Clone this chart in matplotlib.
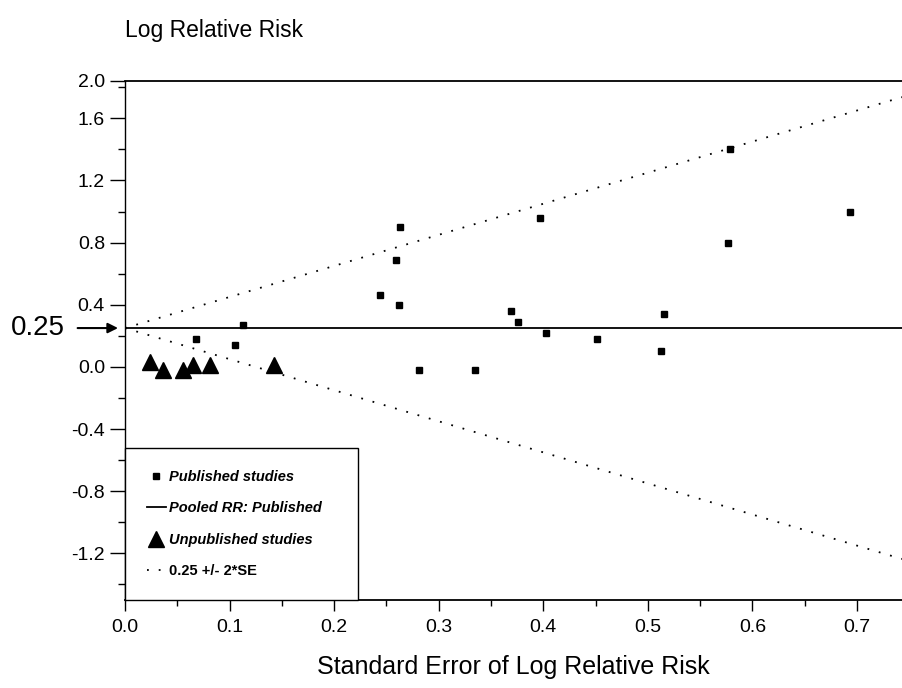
import matplotlib.pyplot as plt

# Published studies: standard error and log relative risk
pub_se = [0.068, 0.113, 0.105, 0.244, 0.259, 0.263, 0.262, 0.281, 0.335, 0.369,
          0.376, 0.397, 0.403, 0.451, 0.513, 0.515, 0.577, 0.579, 0.693]
pub_lrr = [0.18, 0.27, 0.14, 0.46, 0.69, 0.90, 0.40, -0.02, -0.02, 0.36,
           0.29, 0.96, 0.22, 0.18, 0.10, 0.34, 0.80, 1.40, 1.00]

# Unpublished studies
unpub_se = [0.024, 0.036, 0.055, 0.065, 0.081, 0.142]
unpub_lrr = [0.03, -0.02, -0.02, 0.01, 0.01, 0.01]

# Pooled log RR of the published studies
pooled = 0.25

# Axis ticks
x_major = [0.0, 0.1, 0.2, 0.3, 0.4, 0.5, 0.6, 0.7]
x_minor = [0.05, 0.15, 0.25, 0.35, 0.45, 0.55, 0.65]
y_top = 1.84
y_major = [-1.2, -0.8, -0.4, 0.0, 0.4, 0.8, 1.2, 1.6, y_top]
y_labels = ['-1.2', '-0.8', '-0.4', '0.0', '0.4', '0.8', '1.2', '1.6', '2.0']
y_minor = [-1.4, -1.0, -0.6, -0.2, 0.2, 0.6, 1.0, 1.4, 1.8]

plt.rcParams['font.family'] = ['Liberation Sans', 'DejaVu Sans']

fig = plt.figure(figsize=(9.02, 6.88), dpi=100)
ax = fig.add_axes([0.1386, 0.1279, 0.8614, 0.7544])

x_left, x_right = 0.0, 0.743

# Funnel limits 0.25 +/- 2*SE
dots = (0, (1, 5.5))
ax.plot([0, x_right], [pooled, pooled + 2 * x_right], color='black',
        linewidth=1.3, linestyle=dots, label='0.25 +/- 2*SE')
ax.plot([0, x_right], [pooled, pooled - 2 * x_right], color='black',
        linewidth=1.3, linestyle=dots)

# Pooled line
ax.axhline(pooled, color='black', linewidth=1.3, label='Pooled RR: Published')

# Points
ax.plot(pub_se, pub_lrr, linestyle='', marker='s', markersize=5, color='black',
        label='Published studies')
ax.plot(unpub_se, unpub_lrr, linestyle='', marker='^', markersize=12, color='black',
        label='Unpublished studies')

ax.set_xlim(x_left, x_right)
ax.set_ylim(-1.5, y_top)

# Spines
ax.spines['right'].set_visible(False)
ax.spines['top'].set_linewidth(1.3)
ax.spines['bottom'].set_linewidth(1.3)
ax.spines['left'].set_linewidth(1.0)

# Ticks
ax.set_xticks(x_major)
ax.set_xticklabels(['%.1f' % v for v in x_major])
ax.set_xticks(x_minor, minor=True)
ax.set_yticks(y_major)
ax.set_yticklabels(y_labels)
ax.set_yticks(y_minor, minor=True)
ax.tick_params(axis='x', which='major', length=7.7, width=1, pad=6, labelsize=14)
ax.tick_params(axis='x', which='minor', length=4, width=1)
ax.tick_params(axis='y', which='major', length=10.5, width=1, pad=4, labelsize=14)
ax.tick_params(axis='y', which='minor', length=4.8, width=1)

# Titles
fig.text(0.1386, 0.955, 'Log Relative Risk', fontsize=16.5, ha='left', va='center')
ax.set_xlabel('Standard Error of Log Relative Risk', fontsize=18, labelpad=14)

# Arrow marking the pooled value (x in axes fraction, y in data)
ytrans = ax.get_yaxis_transform()
ax.annotate('', xy=(-0.009, pooled), xytext=(-0.061, pooled),
            xycoords=ytrans, textcoords=ytrans, annotation_clip=False,
            arrowprops=dict(arrowstyle='-|>', color='black', lw=1.5,
                            mutation_scale=15, shrinkA=0, shrinkB=0))
ax.text(-0.077, pooled, '0.25', transform=ytrans, fontsize=20, ha='right', va='center')

# Legend in the lower left corner
handles, labels = ax.get_legend_handles_labels()
leg = ax.legend([handles[i] for i in [2, 1, 3, 0]], [labels[i] for i in [2, 1, 3, 0]],
                loc='lower left', bbox_to_anchor=(0, 0, 0.3, 0.289), mode='expand',
                borderaxespad=0, fancybox=False, edgecolor='black', framealpha=1,
                numpoints=1, handlelength=1.3, handletextpad=0.25, labelspacing=1.2,
                borderpad=1.5, prop={'size': 10.5, 'weight': 'bold', 'style': 'italic'})
leg.get_frame().set_linewidth(1.0)
for h in leg.legend_handles:
    if h.get_marker() == 's':
        h.set_markersize(4)
leg.get_texts()[3].set_fontstyle('normal')

plt.savefig('out.png', dpi=100)
